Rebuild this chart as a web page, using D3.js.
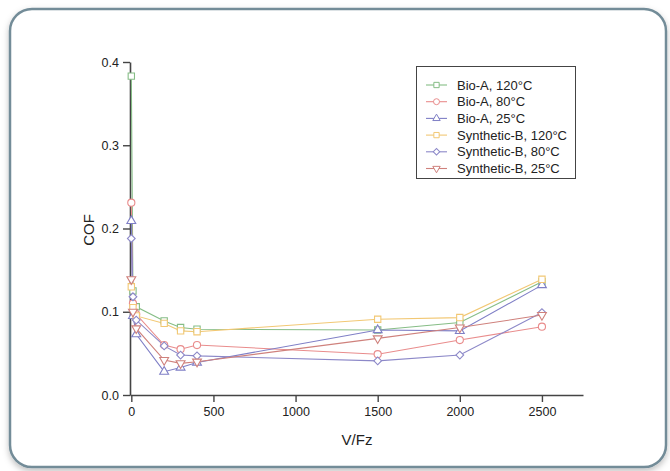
<!DOCTYPE html>
<html>
<head>
<meta charset="utf-8">
<script src="https://cdn.jsdelivr.net/npm/d3@7"></script>
<style>
  body { margin: 0; background: #ffffff; }
  text { font-family: "Liberation Sans", Arial, sans-serif; fill: #222; }
</style>
</head>
<body>
<div class="chart"></div>
<script>
// data
var xValues = [0, 10, 30, 200, 300, 400, 1500, 2000, 2500];
var seriesNames = ["Bio-A, 120°C", "Bio-A, 80°C", "Bio-A, 25°C",
                   "Synthetic-B, 120°C", "Synthetic-B, 80°C", "Synthetic-B, 25°C"];
var bioA120 = [0.383, 0.125, 0.106, 0.089, 0.081, 0.079, 0.078, 0.087, 0.136];
var bioA80  = [0.231, 0.110, 0.097, 0.060, 0.055, 0.060, 0.049, 0.066, 0.082];
var bioA25  = [0.209, 0.095, 0.073, 0.028, 0.033, 0.039, 0.078, 0.077, 0.132];
var synB120 = [0.130, 0.105, 0.095, 0.086, 0.077, 0.076, 0.091, 0.093, 0.139];
var synB80  = [0.188, 0.118, 0.090, 0.059, 0.048, 0.047, 0.041, 0.048, 0.099];
var synB25  = [0.139, 0.100, 0.080, 0.042, 0.038, 0.040, 0.068, 0.081, 0.096];
var xTicks = [0, 500, 1000, 1500, 2000, 2500];
var yTicks = [0.0, 0.1, 0.2, 0.3, 0.4];

var colors = ["#86bd86", "#e98c8c", "#7f7fc6", "#f2c874", "#8c88c8", "#cf817c"];
var shapes = [d3.symbolSquare, d3.symbolCircle, d3.symbolTriangle,
              d3.symbolSquare, d3.symbolSquare, d3.symbolTriangle];
var rotations = [0, 0, 0, 0, 45, 180];
var sizes = [40, 40, 34, 40, 30, 34];
var allSeries = [bioA120, bioA80, bioA25, synB120, synB80, synB25];

var svgWidth = 670, svgHeight = 471;

var svg = d3.select(".chart").append("svg")
  .attr("width", svgWidth)
  .attr("height", svgHeight);

// card with rounded border and soft shadow
var defs = svg.append("defs");
var f = defs.append("filter").attr("id", "shadow")
  .attr("x", "-5%").attr("y", "-5%").attr("width", "110%").attr("height", "115%");
f.append("feDropShadow").attr("dx", 0).attr("dy", 3).attr("stdDeviation", 3)
  .attr("flood-color", "#000").attr("flood-opacity", 0.25);

svg.append("rect")
  .attr("x", 10).attr("y", 9)
  .attr("width", 656).attr("height", 458)
  .attr("rx", 22).attr("ry", 22)
  .attr("fill", "#ffffff")
  .attr("stroke", "#738c98")
  .attr("stroke-width", 2.5)
  .attr("filter", "url(#shadow)");

var x = d3.scaleLinear().domain([-8, 2750]).range([130, 583]);
var y = d3.scaleLinear().domain([0, 0.4]).range([395, 62]);

// axes
var xAxis = svg.append("g")
  .attr("transform", "translate(0," + y(0) + ")")
  .call(d3.axisBottom(x).tickValues(xTicks).tickFormat(d3.format("d")).tickSize(7).tickSizeOuter(0).tickPadding(5));
var yAxis = svg.append("g")
  .attr("transform", "translate(" + x(-8) + ",0)")
  .call(d3.axisLeft(y).tickValues(yTicks).tickFormat(d3.format(".1f")).tickSize(7).tickSizeOuter(0).tickPadding(4));

[xAxis, yAxis].forEach(function(g) {
  g.select(".domain").attr("stroke", "#444").attr("stroke-width", 1.6);
  g.selectAll(".tick line").attr("stroke", "#444").attr("stroke-width", 1.4);
  g.selectAll(".tick text").attr("font-size", "12.5px").attr("fill", "#222")
    .attr("font-family", "Liberation Sans, Arial, sans-serif");
});

// axis titles
svg.append("text")
  .attr("x", 357).attr("y", 445)
  .attr("text-anchor", "middle")
  .attr("font-size", "15px")
  .text("V/Fz");

svg.append("text")
  .attr("transform", "translate(94,230) rotate(-90)")
  .attr("text-anchor", "middle")
  .attr("font-size", "15px")
  .text("COF");

// lines + markers
var line = d3.line().x(function(d, i) { return x(xValues[i]); }).y(function(d) { return y(d); });

allSeries.forEach(function(vals, s) {
  svg.append("path")
    .datum(vals)
    .attr("d", line)
    .attr("fill", "none")
    .attr("stroke", colors[s])
    .attr("stroke-width", 1.1);
});

allSeries.forEach(function(vals, s) {
  svg.selectAll(".m" + s)
    .data(vals)
    .enter()
    .append("path")
    .attr("class", "m" + s)
    .attr("d", d3.symbol().type(shapes[s]).size(sizes[s]))
    .attr("transform", function(d, i) {
      return "translate(" + x(xValues[i]) + "," + y(d) + ") rotate(" + rotations[s] + ")";
    })
    .attr("fill", "#fff")
    .attr("stroke", colors[s])
    .attr("stroke-width", 1.1);
});

// legend
var legend = svg.append("g");
legend.append("rect")
  .attr("x", 416.5).attr("y", 66.5)
  .attr("width", 159).attr("height", 112)
  .attr("fill", "#fff")
  .attr("stroke", "#444")
  .attr("stroke-width", 1);

seriesNames.forEach(function(name, s) {
  var ly = 85 + s * 16.7;
  legend.append("line")
    .attr("x1", 426).attr("x2", 447)
    .attr("y1", ly).attr("y2", ly)
    .attr("stroke", colors[s]).attr("stroke-width", 1.1);
  legend.append("path")
    .attr("d", d3.symbol().type(shapes[s]).size(sizes[s] * 0.7))
    .attr("transform", "translate(436.5," + ly + ") rotate(" + rotations[s] + ")")
    .attr("fill", "#fff")
    .attr("stroke", colors[s]).attr("stroke-width", 1);
  legend.append("text")
    .attr("x", 457).attr("y", ly + 4.5)
    .attr("font-size", "13px")
    .text(name);
});
</script>
</body>
</html>
